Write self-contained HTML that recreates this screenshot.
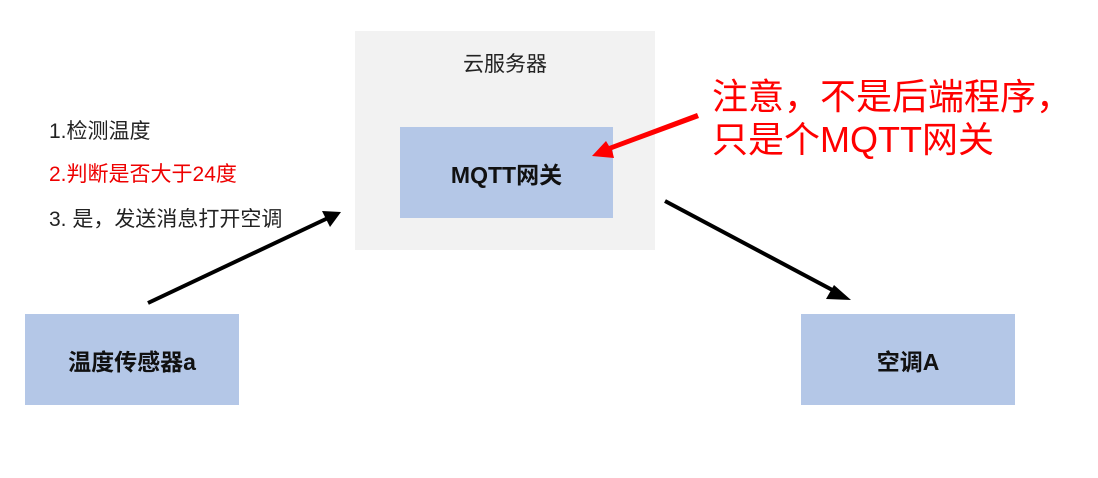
<!DOCTYPE html>
<html><head><meta charset="utf-8"><style>
body{margin:0;width:1098px;height:478px;background:#fff;position:relative;overflow:hidden;font-family:"Liberation Sans","Noto Sans CJK SC",sans-serif}
.a{position:absolute;white-space:nowrap}
.box{position:absolute;background:#b4c7e7;display:flex;align-items:center;justify-content:center;font-weight:bold;font-size:23px;color:#111}
</style></head><body>
<div class="a" style="left:355px;top:31px;width:300px;height:219px;background:#f2f2f2"></div>
<div class="a" style="left:355px;top:48px;width:300px;text-align:center;font-size:21px;color:#222">云服务器</div>
<div class="box" style="left:400px;top:127px;width:213px;height:91px">MQTT网关</div>
<div class="box" style="left:25px;top:314px;width:214px;height:91px">温度传感器a</div>
<div class="box" style="left:801px;top:314px;width:214px;height:91px">空调A</div>
<div class="a" style="left:49px;top:115px;font-size:21px;color:#222">1.检测温度</div>
<div class="a" style="left:49px;top:158px;font-size:21px;color:#e00">2.判断是否大于24度</div>
<div class="a" style="left:49px;top:203px;font-size:21px;color:#222">3. 是，发送消息打开空调</div>
<div class="a" style="left:712px;top:75px;font-size:36px;line-height:43px;color:#f00">注意，不是后端程序，<br>只是个MQTT网关</div>
<svg class="a" style="left:0;top:0" width="1098" height="478">
<line x1="148" y1="303" x2="328" y2="218" stroke="#000" stroke-width="4"/>
<polygon points="341,212 322,211 330,227" fill="#000"/>
<line x1="665" y1="201" x2="838" y2="293" stroke="#000" stroke-width="4"/>
<polygon points="851,300 834,285 826,299" fill="#000"/>
<polygon points="697,113 699,118 612,150 614,158 592,156 606,141 609,146" fill="#f00"/>
</svg>
</body></html>
